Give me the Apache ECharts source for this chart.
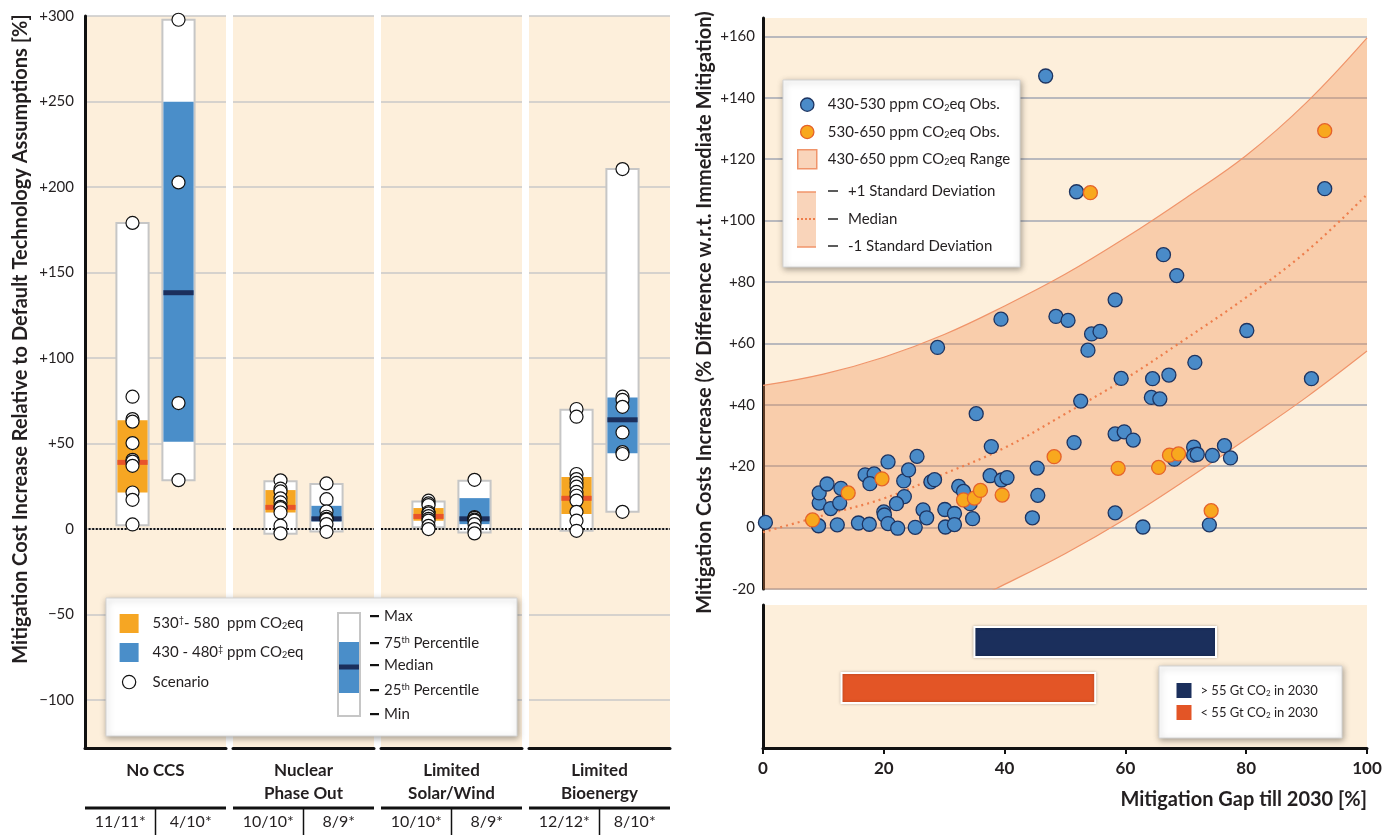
<!DOCTYPE html>
<html><head><meta charset="utf-8">
<script src="https://cdn.jsdelivr.net/npm/echarts@6/dist/echarts.min.js"></script>
<style>html,body{margin:0;padding:0;background:#fff}#c{width:1389px;height:835px}</style>
</head><body><div id="c"></div><script>
// ---------------- Left chart data ----------------
const panelNames = ['No CCS', 'Nuclear\nPhase Out', 'Limited\nSolar/Wind', 'Limited\nBioenergy'];
const count530 = ['11/11*', '10/10*', '10/10*', '12/12*'];
const count430 = ['4/10*', '8/9*', '8/9*', '8/10*'];
// [min, 25th, median, 75th, max]
const stats530 = [[2.3, 21.4, 39, 63.7, 179], [-2.8, 9.7, 12.7, 22.8, 28], [1, 4.9, 7.4, 12.3, 16.2], [-1, 8.8, 18, 30.4, 69.8]];
const stats430 = [[28.6, 51, 138.2, 249.9, 297.8], [-1.4, 4.5, 6, 13.6, 26.3], [-2, 2.9, 6, 18.1, 28.3], [10.1, 44.3, 63.9, 77, 210.5]];
const scen530 = [
  [179, 77.4, 64.3, 62.8, 50.3, 40.5, 39.4, 37, 21.4, 17.1, 2.7],
  [28.5, 23.6, 22, 18, 15.6, 13, 12.3, 9.7, 2, -2.5],
  [16.6, 15, 14, 10, 9.2, 7.6, 6, 4.9, 1.9, 0],
  [70.2, 65.7, 32.2, 29.2, 27, 24.8, 21.7, 19.5, 16.6, 10.1, 4.9, -1]
];
const scen430 = [
  [297.8, 202.7, 73.7, 28.6],
  [26.7, 17.5, 10.3, 7.2, 6, 5.5, 2.9, -1.6],
  [28.8, 7, 6.6, 5.5, 4.9, 2.9, 0, -2.5],
  [210.5, 77.4, 75.5, 71.5, 56.5, 45, 43.9, 10.1]
];
const leftTicks = [-100, -50, 0, 50, 100, 150, 200, 250, 300];
const leftTitle = 'Mitigation Cost Increase Relative to Default Technology Assumptions [%]';

// ---------------- Right chart data ----------------
const gapX = [0, 10, 20, 30, 40, 50, 60, 70, 80, 90, 100];
const sdUpper = [46.3, 50, 55.5, 62.9, 72.2, 82.5, 94.4, 107.4, 121.2, 138.5, 159.5];
const sdMedian = [-1.5, 4, 9.5, 17.5, 26, 37, 48.5, 61.5, 75, 90, 108.5];
const sdLower = [-49, -42, -36.5, -28, -18.5, -8.5, 2.8, 15.5, 28.8, 42.5, 57.5];
const obs430 = [
  [0.4, 1.7], [9.2, 0.6], [12.3, 0.9], [15.8, 1.5], [17.6, 1.1], [9.3, 8], [11.2, 6.2], [12.7, 8],
  [9.3, 11.3], [10.6, 14.2], [12.9, 12.8], [16.9, 17.2], [18.4, 17.5], [17.7, 14.3], [20.7, 21.4],
  [23.3, 15.2], [24.1, 18.8], [25.5, 23.2], [23.4, 10.1], [22.1, 7.8], [20.0, 5.1], [20.1, 4.1],
  [20.7, 1.3], [22.3, -0.2], [25.2, 0.1], [26.5, 5.8], [27.1, 3.2], [27.8, 14.9], [28.4, 15.6],
  [30.1, 5.9], [30.2, 0.2], [31.7, 4.6], [31.7, 1.0], [32.4, 13.4], [33.2, 11.8], [34.3, 7.8],
  [34.7, 2.9], [37.6, 16.9], [39.5, 15.5], [40.4, 16.3], [37.8, 26.4], [35.3, 37.1], [28.9, 58.7],
  [39.4, 67.9], [44.6, 3.2], [45.5, 10.5], [45.4, 19.4], [46.8, 147.1], [48.5, 68.8], [50.5, 67.5],
  [51.9, 109.4], [51.5, 27.7], [52.6, 41.2], [53.8, 57.8], [54.4, 63.1], [55.8, 63.9], [58.3, 74.2],
  [58.3, 30.5], [59.8, 31.2], [61.3, 28.5], [59.3, 48.6], [58.3, 4.8], [62.9, 0.2], [64.5, 48.5],
  [64.3, 42.4], [65.7, 41.9], [66.3, 88.9], [67.2, 49.7], [68.5, 82.1], [68.1, 22.3], [71.3, 26.2],
  [71.3, 23.6], [71.9, 23.9], [71.5, 53.8], [73.9, 0.9], [74.4, 23.5], [76.4, 26.7], [77.4, 22.7],
  [80.1, 64.2], [90.8, 48.5], [93.0, 110.4]
];
const obs530 = [
  [8.2, 2.5], [14.1, 11.3], [19.7, 15.9], [33.2, 9.0], [35.0, 9.6], [36.0, 12.1], [39.6, 10.6],
  [48.2, 23.1], [54.2, 109.1], [58.8, 19.3], [65.5, 19.6], [67.3, 23.6], [68.8, 24.0], [74.2, 5.5],
  [93.0, 129.3]
];
const rightTicks = [-20, 0, 20, 40, 60, 80, 100, 120, 140, 160];
const rightTitle = 'Mitigation Costs Increase (% Difference w.r.t. Immediate Mitigation)';
const gapTitle = 'Mitigation Gap till 2030 [%]';
const barNames = ['gt55', 'lt55'];
const barStart = [35, 13];
const barEnd = [75, 55];

// ---------------- Styles ----------------
const FONT = 'Lato, "Noto Sans", sans-serif';
const TXT = '#231f20';
const BG = '#fdefdb';
const ORANGE = '#f6a623', BLUE = '#4a8ec9', NAVY = '#1b2f5c', REDOR = '#e8542a';
const BAND_LINE = '#f0946a';
const CIRC = 'path://M0,0M20,20M17,10A7,7,0,1,1,3,10A7,7,0,1,1,17,10Z';
const labelMap = {
  o530: '530{sup|\u2020}- 580  ppm CO{sub|2}eq',
  b430: '430 - 480{sup|\u2021} ppm CO{sub|2}eq',
  Scenario: 'Scenario',
  obs430: '430-530 ppm CO{sub|2}eq Obs.',
  obs530: '530-650 ppm CO{sub|2}eq Obs.',
  range: '430-650 ppm CO{sub|2}eq Range',
  gt55: '> 55 Gt CO{sub|2} in 2030',
  lt55: '< 55 Gt CO{sub|2} in 2030'
};
function richFor(size) {
  return {
    sup: {fontSize: Math.round(size * 0.6), verticalAlign: 'top', fontFamily: FONT, color: TXT},
    sub: {fontSize: Math.round(size * 0.6), verticalAlign: 'bottom', fontFamily: FONT, color: TXT}
  };
}
function fmtSigned(v, minus) { return v === 0 ? '0' : (v > 0 ? '+' + v : minus + Math.abs(v)); }

function boxRender(fill, medColor) {
  return function (params, api) {
    const g = api.value(0);
    const w = api.size([0.7, 0])[0];
    const pMin = api.coord([g, api.value(1)]);
    const pQ1 = api.coord([g, api.value(2)]);
    const pMed = api.coord([g, api.value(3)]);
    const pQ3 = api.coord([g, api.value(4)]);
    const pMax = api.coord([g, api.value(5)]);
    const x = pMin[0] - w / 2;
    return {type: 'group', children: [
      {type: 'rect', shape: {x: x, y: pMax[1], width: w, height: pMin[1] - pMax[1]}, style: {fill: '#fff', stroke: '#c6c6c6', lineWidth: 2}},
      {type: 'rect', shape: {x: x + 1, y: pQ3[1], width: w - 2, height: pQ1[1] - pQ3[1]}, style: {fill: fill}},
      {type: 'rect', shape: {x: x + 1, y: pMed[1] - 2.5, width: w - 2, height: 5}, style: {fill: medColor}}
    ]};
  };
}

const option = {animation: false, backgroundColor: '#fff', grid: [], xAxis: [], yAxis: [], series: [], legend: [], graphic: {elements: []}};
const PL = [85, 233, 381, 529], PW = 141;
const gridBase = {show: true, backgroundColor: BG, borderWidth: 0, containLabel: false, outerBoundsMode: 'none'};

PL.forEach(function (l, i) {
  option.grid.push(Object.assign({left: l, width: PW, top: 16, bottom: 87}, gridBase));
  option.xAxis.push({
    gridIndex: i, type: 'category', data: [count530[i], count430[i]], position: 'bottom',
    axisLine: {onZero: false, lineStyle: {color: '#111', width: 3}}, axisTick: {show: false},
    axisLabel: {margin: 66, fontSize: 16, color: TXT, fontFamily: FONT},
    name: panelNames[i], nameLocation: 'middle', nameGap: 11, nameMoveOverlap: false,
    nameTextStyle: {fontSize: 17, fontWeight: 'bold', color: TXT, lineHeight: 23, fontFamily: FONT}
  });
  option.xAxis.push({gridIndex: i, type: 'value', min: -1.033, max: 2.033, show: false});
  const y = {
    gridIndex: i, type: 'value', min: -128, max: 300, splitNumber: 8, minInterval: 50, maxInterval: 50,
    axisTick: {show: false}, nameMoveOverlap: false,
    splitLine: {show: true, showMinLine: false, lineStyle: {color: '#c9c9c9', width: 1.5}}
  };
  if (i === 0) {
    y.axisLine = {show: true, onZero: false, lineStyle: {color: '#111', width: 3}};
    y.axisLabel = {show: true, margin: 11, fontSize: 15, color: TXT, fontFamily: FONT,
      formatter: function (v) { return leftTicks.indexOf(v) >= 0 ? fmtSigned(v, '\u2212') : ''; }};
    y.name = leftTitle; y.nameLocation = 'middle'; y.nameGap = 54;
    y.nameTextStyle = {fontSize: 20, fontWeight: 'bold', color: TXT, fontFamily: FONT, padding: [0, 0, 0, 86]};
  } else {
    y.axisLine = {show: false, onZero: false};
    y.axisLabel = {show: false};
  }
  option.yAxis.push(y);
  option.series.push({type: 'custom', name: 'o530', xAxisIndex: 2 * i + 1, yAxisIndex: i,
    renderItem: boxRender(ORANGE, REDOR), itemStyle: {color: ORANGE},
    encode: {x: 0, y: [1, 2, 3, 4, 5]}, data: [[0].concat(stats530[i])], z: 2});
  option.series.push({type: 'custom', name: 'b430', xAxisIndex: 2 * i + 1, yAxisIndex: i,
    renderItem: boxRender(BLUE, NAVY), itemStyle: {color: BLUE},
    encode: {x: 0, y: [1, 2, 3, 4, 5]}, data: [[1].concat(stats430[i])], z: 2});
  option.series.push({type: 'scatter', name: 'Scenario', xAxisIndex: 2 * i + 1, yAxisIndex: i,
    data: scen530[i].map(function (v) { return [0, v]; }).concat(scen430[i].map(function (v) { return [1, v]; })),
    symbolSize: 13, itemStyle: {color: '#fff', borderColor: '#111', borderWidth: 1.2, opacity: 1}, z: 10,
    markLine: {silent: true, symbol: 'none', label: {show: false}, z: 5,
      lineStyle: {color: '#111', type: [2, 1.6], width: 2.2}, data: [{yAxis: 0}]}});
  option.graphic.elements.push({type: 'line', shape: {x1: l, y1: 808, x2: l + PW, y2: 808}, style: {stroke: '#111', lineWidth: 3}});
  option.graphic.elements.push({type: 'line', shape: {x1: l + PW / 2, y1: 808, x2: l + PW / 2, y2: 835}, style: {stroke: '#111', lineWidth: 1.5}});
});

// Right: scatter grid (index 4) and bar grid (index 5)
option.grid.push(Object.assign({left: 763, right: 22, top: 18, bottom: 246}, gridBase));
option.grid.push(Object.assign({left: 763, right: 22, top: 605, bottom: 87}, gridBase));
option.xAxis.push({gridIndex: 4, type: 'value', min: 0, max: 100, show: false});
option.xAxis.push({gridIndex: 5, type: 'value', min: 0, max: 100, interval: 20,
  axisLine: {onZero: false, lineStyle: {color: '#111', width: 3}},
  axisTick: {show: true, length: 6, lineStyle: {color: '#111', width: 2}},
  axisLabel: {margin: 12, fontSize: 17, fontWeight: 'bold', color: TXT, fontFamily: FONT},
  splitLine: {show: false},
  name: gapTitle, nameLocation: 'end', nameGap: 0, nameMoveOverlap: false,
  nameTextStyle: {fontSize: 20, fontWeight: 'bold', color: TXT, fontFamily: FONT, align: 'right', verticalAlign: 'top', padding: [42, 0, 0, 0]}
});
option.yAxis.push({gridIndex: 4, type: 'value', min: -20, max: 166, interval: 20,
  axisLine: {show: true, onZero: false, lineStyle: {color: '#111', width: 3}}, axisTick: {show: false},
  axisLabel: {margin: 8, fontSize: 15, color: TXT, fontFamily: FONT,
    formatter: function (v) { return rightTicks.indexOf(v) >= 0 ? fmtSigned(v, '-') : ''; }},
  splitLine: {show: true, showMaxLine: false, lineStyle: {color: '#b9b9bd', width: 2}},
  name: rightTitle, nameLocation: 'middle', nameGap: 48, nameMoveOverlap: false,
  nameTextStyle: {fontSize: 20, fontWeight: 'bold', color: TXT, fontFamily: FONT, padding: [0, 18, 0, 0]}
});
option.yAxis.push({gridIndex: 5, type: 'value', min: -0.8, max: 2.3, inverse: true,
  axisLine: {show: true, onZero: false, lineStyle: {color: '#111', width: 3}},
  axisTick: {show: false}, axisLabel: {show: false}, splitLine: {show: false}});

// SD band: values stacked on the y dimension (column 0 holds y so it is the stacked dimension)
option.series.push({type: 'line', name: 'lower', xAxisIndex: 8, yAxisIndex: 4, stack: 'sd', stackStrategy: 'all',
  data: gapX.map(function (x, k) { return [sdLower[k], x]; }), encode: {x: 1, y: 0},
  smooth: 0.4, symbol: 'none', silent: true, lineStyle: {color: BAND_LINE, width: 1.2}, z: 1});
option.series.push({type: 'line', name: 'range', xAxisIndex: 8, yAxisIndex: 4, stack: 'sd', stackStrategy: 'all',
  data: gapX.map(function (x, k) { return [sdUpper[k] - sdLower[k], x]; }), encode: {x: 1, y: 0},
  smooth: 0.4, symbol: 'none', silent: true,
  lineStyle: {color: BAND_LINE, width: 1.2}, itemStyle: {color: BAND_LINE},
  areaStyle: {color: 'rgba(240,140,80,0.34)', opacity: 1}, z: 1});
option.series.push({type: 'line', name: 'median', xAxisIndex: 8, yAxisIndex: 4,
  data: gapX.map(function (x, k) { return [x, sdMedian[k]]; }), smooth: 0.4, symbol: 'none', silent: true,
  lineStyle: {color: '#ee7e4c', width: 2.2, type: [2, 4]}, z: 2});
option.series.push({type: 'scatter', name: 'obs430', xAxisIndex: 8, yAxisIndex: 4, data: obs430, symbolSize: 14,
  itemStyle: {color: '#4a8bc8', borderColor: '#1d3461', borderWidth: 1.3, opacity: 1}, z: 5});
option.series.push({type: 'scatter', name: 'obs530', xAxisIndex: 8, yAxisIndex: 4, data: obs530, symbolSize: 14,
  itemStyle: {color: '#f8a81e', borderColor: '#e5622a', borderWidth: 1.3, opacity: 1}, z: 6});
const barColors = [NAVY, '#e35526'];
barNames.forEach(function (n, k) {
  option.series.push({type: 'custom', name: n, xAxisIndex: 9, yAxisIndex: 5, itemStyle: {color: barColors[k]},
    encode: {x: [0, 1], y: 2}, data: [[barStart[k], barEnd[k], k]],
    renderItem: function (params, api) {
      const p0 = api.coord([api.value(0), api.value(2)]);
      const p1 = api.coord([api.value(1), api.value(2)]);
      return {type: 'rect', shape: {x: p0[0], y: p0[1] - 15, width: p1[0] - p0[0], height: 30},
        style: {fill: api.visual('color'), stroke: '#fff', lineWidth: 2, shadowBlur: 3, shadowColor: 'rgba(0,0,0,0.25)'}};
    }});
});

// Legends
function legendText(size, pad) {
  return {fontFamily: FONT, fontSize: size, color: TXT, padding: [0, 0, 0, pad], rich: richFor(size)};
}
option.legend.push({
  data: [{name: 'o530', icon: 'rect', itemStyle: {color: ORANGE, borderWidth: 0}},
         {name: 'b430', icon: 'rect', itemStyle: {color: BLUE, borderWidth: 0}},
         {name: 'Scenario', icon: CIRC, itemStyle: {color: '#fff', borderColor: '#111', borderWidth: 1.2}}],
  orient: 'vertical', left: 119, top: 614, padding: 0, itemWidth: 19, itemHeight: 19, itemGap: 10, selectedMode: false, z: 30,
  formatter: function (n) { return labelMap[n]; }, textStyle: legendText(15, 9)
});
option.legend.push({
  data: [{name: 'obs430', icon: CIRC, itemStyle: {color: '#4a8bc8', borderColor: '#1d3461', borderWidth: 1.3}},
         {name: 'obs530', icon: CIRC, itemStyle: {color: '#f8a81e', borderColor: '#e5622a', borderWidth: 1.3}},
         {name: 'range', icon: 'rect', itemStyle: {color: '#f9d4ba', borderColor: BAND_LINE, borderWidth: 1.5}}],
  orient: 'vertical', left: 797, top: 94.5, padding: 0, itemWidth: 19, itemHeight: 19, itemGap: 7, selectedMode: false, z: 30,
  formatter: function (n) { return labelMap[n]; }, textStyle: legendText(15, 6)
});
option.legend.push({
  data: [{name: 'gt55', icon: 'rect', itemStyle: {color: NAVY, borderWidth: 0}},
         {name: 'lt55', icon: 'rect', itemStyle: {color: '#e35526', borderWidth: 0}}],
  orient: 'vertical', left: 1176.5, top: 683, padding: 0, itemWidth: 15, itemHeight: 15, itemGap: 7, selectedMode: false, z: 30,
  formatter: function (n) { return labelMap[n]; }, textStyle: legendText(13, 4)
});

// Legend boxes & glyphs (decoration)
const G = option.graphic.elements;
function box(x, y, w, h) {
  G.push({type: 'rect', z: 20, shape: {x: x, y: y, width: w, height: h},
    style: {fill: '#fff', stroke: '#d4d4d4', lineWidth: 1, shadowBlur: 6, shadowOffsetX: 1, shadowOffsetY: 2, shadowColor: 'rgba(0,0,0,0.35)'}});
}
box(106, 598, 411, 138);
box(783, 80, 237, 187);
box(1159, 666, 183, 72);
G.push({type: 'rect', z: 21, shape: {x: 338, y: 613, width: 22, height: 103}, style: {fill: '#fff', stroke: '#c6c6c6', lineWidth: 2}});
G.push({type: 'rect', z: 22, shape: {x: 339, y: 642, width: 20, height: 51}, style: {fill: BLUE}});
G.push({type: 'rect', z: 23, shape: {x: 339, y: 664.5, width: 20, height: 5}, style: {fill: NAVY}});
const boxLbl = ['Max', '75{sup|th} Percentile', 'Median', '25{sup|th} Percentile', 'Min'];
const boxLblY = [616, 643, 665, 690, 714];
boxLbl.forEach(function (t, k) {
  G.push({type: 'rect', z: 22, shape: {x: 370, y: boxLblY[k] - 1, width: 9, height: 2.2}, style: {fill: '#111'}});
  G.push({type: 'text', z: 22, x: 384, y: boxLblY[k], style: {text: t, fill: TXT, fontFamily: FONT, fontSize: 15,
    verticalAlign: 'middle', align: 'left', rich: richFor(15)}});
});
G.push({type: 'rect', z: 21, shape: {x: 797, y: 192, width: 19, height: 55}, style: {fill: '#f9d4ba'}});
G.push({type: 'line', z: 22, shape: {x1: 797, y1: 192, x2: 816, y2: 192}, style: {stroke: BAND_LINE, lineWidth: 1.5}});
G.push({type: 'line', z: 22, shape: {x1: 797, y1: 247, x2: 816, y2: 247}, style: {stroke: BAND_LINE, lineWidth: 1.5}});
G.push({type: 'line', z: 22, shape: {x1: 797, y1: 219, x2: 816, y2: 219}, style: {stroke: '#ee7e4c', lineWidth: 2, lineDash: [2, 2]}});
const sdLbl = ['+1 Standard Deviation', 'Median', '-1 Standard Deviation'];
const sdLblY = [191, 219, 246];
sdLbl.forEach(function (t, k) {
  G.push({type: 'rect', z: 22, shape: {x: 828, y: sdLblY[k] - 0.8, width: 10, height: 1.6}, style: {fill: '#333'}});
  G.push({type: 'text', z: 22, x: 848, y: sdLblY[k], style: {text: t, fill: TXT, fontFamily: FONT, fontSize: 15, verticalAlign: 'middle', align: 'left'}});
});

const chart = echarts.init(document.getElementById('c'), null, {renderer: 'canvas'});
chart.setOption(option);
</script></body></html>
